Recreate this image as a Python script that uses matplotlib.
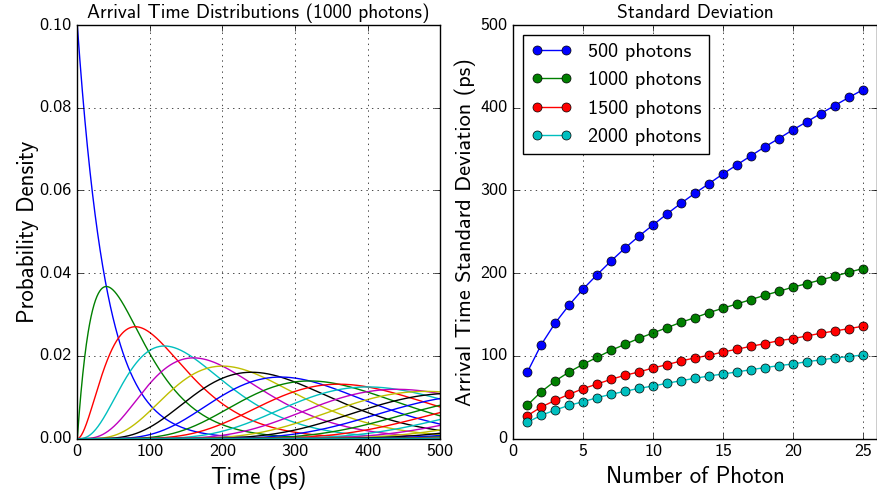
import math
import os
import numpy as np
import matplotlib
matplotlib.use("Agg")
import matplotlib.pyplot as plt
from matplotlib import font_manager as fm

# ---- data -------------------------------------------------------------
photon_order = np.arange(1, 26)            # k-th detected photon
mean_gap_ps = 40.0                          # mean inter-arrival time (1000 photons)
density_at_zero = 0.1                       # first-photon density at t = 0
time_ps = np.linspace(0, 500, 1001)         # sampled time grid (ps)

photon_counts = ["500 photons", "1000 photons", "1500 photons", "2000 photons"]
std_500 = [80.3, 113.7, 139.9, 161.7, 181.0, 198.3, 214.9, 230.5, 245.0, 258.4,
           271.7, 284.6, 296.7, 308.3, 320.0, 331.0, 341.9, 352.8, 362.8, 373.3,
           383.0, 393.0, 402.7, 412.4, 421.6]
std_1000 = [40.4, 56.8, 69.8, 80.7, 90.0, 98.4, 106.9, 114.1, 121.4, 127.8,
            134.2, 140.7, 146.3, 152.4, 157.7, 162.9, 168.1, 173.4, 178.2, 183.1,
            187.4, 191.9, 196.4, 201.2, 205.6]
std_1500 = [27.8, 38.3, 46.4, 53.7, 60.5, 66.1, 71.8, 76.7, 80.7, 85.5,
            89.5, 94.0, 97.6, 100.8, 104.8, 108.1, 111.7, 114.9, 118.5, 120.9,
            124.2, 127.4, 130.2, 133.0, 135.9]
std_2000 = [19.8, 28.3, 34.7, 40.4, 44.7, 49.6, 53.7, 57.3, 60.9, 63.7,
            67.0, 70.1, 73.0, 75.8, 78.2, 80.7, 83.4, 85.9, 88.3, 90.3,
            93.1, 95.2, 97.6, 99.2, 101.2]

# ---- style ------------------------------------------------------------
plt.style.use("classic")
cmss_path = os.path.join(matplotlib.get_data_path(), "fonts", "ttf", "cmss10.ttf")
fm.fontManager.addfont(cmss_path)
cmss_name = fm.FontProperties(fname=cmss_path).get_name()
plt.rcParams.update({
    "figure.facecolor": "white",
    "savefig.facecolor": "white",
    "font.family": [cmss_name, "DejaVu Sans"],
    "axes.unicode_minus": False,
    "axes.formatter.use_mathtext": False,
    "grid.linestyle": ":",
    "grid.color": "black",
})

colors = ["b", "g", "r", "c", "m", "y", "k"]

fig = plt.figure(figsize=(8.78, 4.94), dpi=100)
ax1 = fig.add_axes([77.3 / 878, 1 - 438.7 / 494, 363 / 878, 413.7 / 494])
ax2 = fig.add_axes([513.3 / 878, 1 - 438.7 / 494, 363.4 / 878, 413.7 / 494])

# Erlang densities of the k-th photon arrival time
for i, k in enumerate(photon_order):
    x = time_ps / mean_gap_ps
    dens = density_at_zero * x ** (k - 1) * np.exp(-x) / math.factorial(k - 1)
    ax1.plot(time_ps, dens, color=colors[i % len(colors)], lw=1)

ax1.set_xlim(0, 500)
ax1.set_ylim(0, 0.10)
ax1.set_xticks([0, 100, 200, 300, 400, 500])
ax1.set_yticks([0.0, 0.02, 0.04, 0.06, 0.08, 0.10])
ax1.set_yticklabels(["0.00", "0.02", "0.04", "0.06", "0.08", "0.10"])
ax1.grid(True)
ax1.set_title("Arrival Time Distributions (1000 photons)", fontsize=14)
ax1.set_xlabel("Time (ps)", fontsize=16.5)
ax1.set_ylabel("Probability Density", fontsize=16.5, labelpad=0)
ax1.tick_params(labelsize=13)

series = [std_500, std_1000, std_1500, std_2000]
for i, (label, vals) in enumerate(zip(photon_counts, series)):
    ax2.plot(photon_order, vals, "-o", color=colors[i], markeredgecolor="k",
             markersize=6.5, lw=1, label=label)

ax2.set_xlim(0, 26)
ax2.set_ylim(0, 500)
ax2.set_xticks([0, 5, 10, 15, 20, 25])
ax2.set_yticks([0, 100, 200, 300, 400, 500])
ax2.grid(True)
ax2.set_title("Standard Deviation", fontsize=14)
ax2.set_xlabel("Number of Photon", fontsize=16.5)
ax2.set_ylabel("Arrival Time Standard Deviation (ps)", fontsize=16, labelpad=3)
ax2.tick_params(labelsize=13)
ax2.legend(loc="upper left", numpoints=2, fontsize=14.5)

fig.savefig("out.png", dpi=100)
